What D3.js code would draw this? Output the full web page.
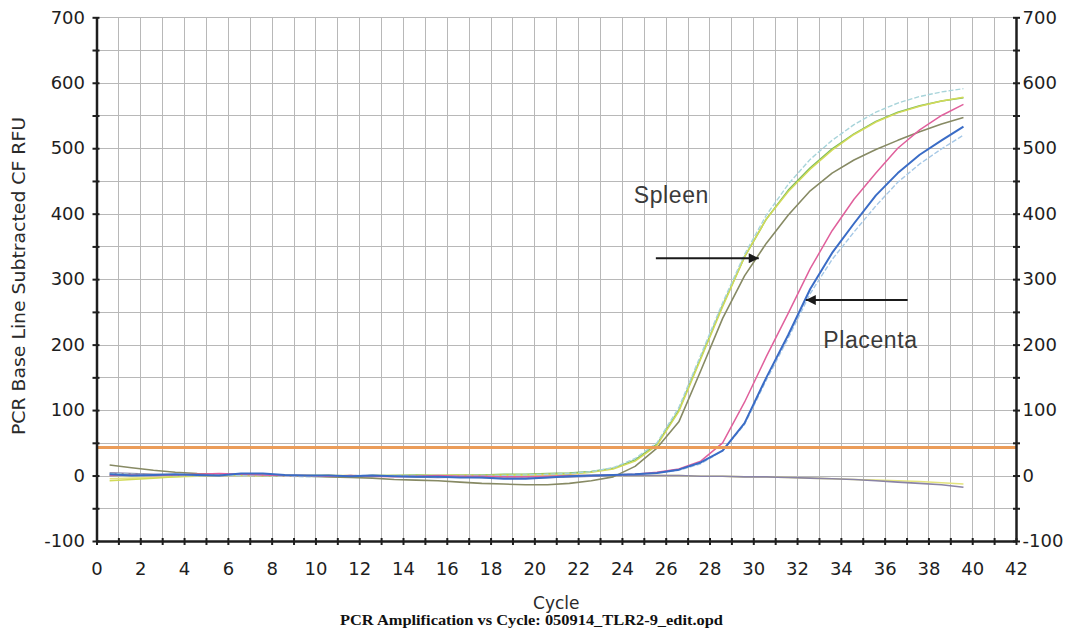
<!DOCTYPE html>
<html>
<head>
<meta charset="utf-8">
<script src="https://cdn.jsdelivr.net/npm/d3@7"></script>
<style>
  html, body { margin: 0; padding: 0; background: #ffffff; }
  svg { display: block; }
</style>
</head>
<body>
<svg id="chart" width="1068" height="628"></svg>
<script>
// Cycle positions of the plotted readings
const cycles = [0.6, 1.6, 2.6, 3.6, 4.6, 5.6, 6.6, 7.6, 8.6, 9.6,
  10.6, 11.6, 12.6, 13.6, 14.6, 15.6, 16.6, 17.6, 18.6, 19.6,
  20.6, 21.6, 22.6, 23.6, 24.6, 25.6, 26.6, 27.6, 28.6, 29.6,
  30.6, 31.6, 32.6, 33.6, 34.6, 35.6, 36.6, 37.6, 38.6, 39.6];

// Spleen wells
const spleenA = [3, 2, 1, 0, 0, 1, 0, 0, -1, -2, -1, 0, -1, 0, 0, -1, 0, 0, 0, 1,
  2, 3, 6, 12, 26, 50, 104, 184, 264, 338, 398, 445, 483, 512, 536, 555, 569, 579, 586, 591];
const spleenB = [0, 1, 1, 0, 1, 2, 1, 1, 0, 0, 0, -1, 0, 0, 1, 0, 1, 1, 2, 2,
  3, 4, 6, 11, 24, 48, 100, 180, 260, 334, 392, 436, 470, 499, 522, 541, 555, 565, 572, 577];
const spleenC = [-8, -6, -4, -2, 0, 0, 1, 0, 0, -1, 0, 0, -1, 0, 0, 0, 1, 0, 1, 1,
  2, 2, 5, 10, 22, 46, 98, 178, 258, 334, 392, 434, 468, 497, 521, 540, 554, 564, 572, 578];
const spleenD = [16, 12, 8, 5, 3, 2, 1, 0, 0, -1, -2, -3, -4, -6, -7, -8, -10, -12, -13, -14,
  -14, -12, -8, -2, 14, 42, 82, 160, 240, 305, 355, 398, 435, 462, 482, 498, 512, 525, 537, 547];

// Placenta wells
const placentaA = [0, 1, 0, 1, 2, 3, 2, 1, 0, 0, -1, 0, -1, -2, -1, 0, -1, -1, -2, -2,
  -1, 0, 0, 1, 2, 5, 10, 22, 50, 112, 182, 248, 316, 374, 422, 462, 500, 528, 550, 567];
const placentaB = [2, 0, 1, 2, 1, 0, 3, 3, 1, 0, 0, -1, 0, -1, -2, -2, -3, -3, -5, -5,
  -3, -1, 0, 1, 2, 4, 9, 20, 38, 80, 150, 215, 285, 340, 385, 428, 462, 490, 512, 533];
const placentaC = [1, 0, 0, 1, 0, 1, 2, 1, 0, -1, -1, 0, 0, -1, -1, -2, -2, -3, -4, -4,
  -3, -1, 0, 1, 2, 4, 8, 18, 38, 78, 146, 210, 278, 330, 372, 412, 448, 476, 499, 520];

// No-template controls
const controlA = [-5, -4, -3, -2, -1, 0, 0, -1, 0, 0, 0, -1, 0, 0, 0, 0, -1, 0, 0, 0,
  0, 0, 0, 0, 0, 0, 0, -1, -1, -2, -2, -3, -4, -5, -6, -7, -8, -9, -11, -13];
const controlB = [4, 3, 2, 1, 0, 0, 1, 0, 0, -1, 0, -1, 0, -1, -2, -3, -2, -3, -4, -4,
  -3, -2, -1, 0, 0, 0, 0, -1, -1, -2, -2, -3, -4, -5, -6, -8, -10, -12, -14, -18];

const threshold = 43;

const xTicks = [0, 2, 4, 6, 8, 10, 12, 14, 16, 18, 20, 22, 24, 26, 28, 30, 32, 34, 36, 38, 40, 42];
const yTicks = [-100, 0, 100, 200, 300, 400, 500, 600, 700];

const series = [
  { name: "controlA", values: controlA, color: "#e4e47e", width: 1.6, dash: null },
  { name: "controlB", values: controlB, color: "#8a84a6", width: 1.6, dash: null },
  { name: "spleenD", values: spleenD, color: "#878a64", width: 1.6, dash: null },
  { name: "spleenB", values: spleenB, color: "#7cbc5c", width: 1.5, dash: null },
  { name: "spleenC", values: spleenC, color: "#d2da58", width: 1.5, dash: null },
  { name: "spleenA", values: spleenA, color: "#a8d4da", width: 1.4, dash: "5,2" },
  { name: "placentaC", values: placentaC, color: "#a6c8e6", width: 1.4, dash: "5,2" },
  { name: "placentaA", values: placentaA, color: "#e0609c", width: 1.5, dash: null },
  { name: "placentaB", values: placentaB, color: "#3a6cc6", width: 2, dash: null }
];

const svg = d3.select("#chart");
const plotLeft = 96.5, plotRight = 1016, plotTop = 17.3, plotBottom = 541;

const x = d3.scaleLinear().domain([0, 42]).range([plotLeft, plotRight]);
const y = d3.scaleLinear().domain([-100, 700]).range([plotBottom, plotTop]);

// Grid
const grid = svg.append("g").attr("stroke", "#b8b8b8").attr("stroke-width", 1);
grid.selectAll("line.v").data(d3.range(1, 42)).join("line")
  .attr("class", "v")
  .attr("x1", d => Math.round(x(d)) + 0.5).attr("x2", d => Math.round(x(d)) + 0.5)
  .attr("y1", plotTop).attr("y2", plotBottom);
grid.selectAll("line.h").data(d3.range(-50, 701, 50)).join("line")
  .attr("class", "h")
  .attr("x1", plotLeft).attr("x2", plotRight)
  .attr("y1", d => Math.round(y(d)) + 0.5).attr("y2", d => Math.round(y(d)) + 0.5);

// Amplification curves
const line = d3.line().x((d, i) => x(cycles[i])).y(d => y(d));
svg.append("g").attr("fill", "none").selectAll("path").data(series).join("path")
  .attr("d", d => line(d.values))
  .attr("stroke", d => d.color)
  .attr("stroke-width", d => d.width)
  .attr("stroke-dasharray", d => d.dash)
  .attr("stroke-linejoin", "round");

// Threshold
svg.append("line")
  .attr("x1", plotLeft).attr("x2", plotRight)
  .attr("y1", y(threshold)).attr("y2", y(threshold))
  .attr("stroke", "#eb9c58").attr("stroke-width", 3);

// Axes
const tickFont = "DejaVu Sans, Verdana, sans-serif";
function styleAxis(g, crossIn) {
  g.select(".domain").attr("stroke", "#1e1e1e").attr("stroke-width", 2.5);
  g.selectAll(".tick line").attr("stroke", "#1e1e1e").attr("stroke-width", 2);
  g.selectAll(".tick text").attr("fill", "#1e1e1e")
    .attr("font-family", tickFont).attr("font-size", 18);
  crossIn(g.selectAll(".tick line"));
}

const yMinor = d3.range(-100, 701, 50);
svg.append("g").attr("transform", `translate(${plotLeft},0)`)
  .call(d3.axisLeft(y).tickValues(yMinor).tickSize(4).tickSizeOuter(0).tickPadding(7.5)
    .tickFormat(d => yTicks.includes(d) ? d : ""))
  .call(g => styleAxis(g, l => l.attr("x1", 3)));

svg.append("g").attr("transform", `translate(${plotRight},0)`)
  .call(d3.axisRight(y).tickValues(yMinor).tickSize(4).tickSizeOuter(0).tickPadding(2.5)
    .tickFormat(d => yTicks.includes(d) ? d : ""))
  .call(g => styleAxis(g, l => l.attr("x1", -3)));

svg.append("g").attr("transform", `translate(0,${plotBottom})`)
  .call(d3.axisBottom(x).tickValues(d3.range(0, 43, 1)).tickSize(4).tickSizeOuter(0).tickPadding(17)
    .tickFormat(d => xTicks.includes(d) ? d : ""))
  .call(g => styleAxis(g, l => l.attr("y1", -3)));

// Axis titles
svg.append("text")
  .attr("transform", `translate(25,276) rotate(-90)`)
  .attr("text-anchor", "middle")
  .attr("font-family", tickFont).attr("font-size", 17)
  .attr("textLength", 318).attr("lengthAdjust", "spacingAndGlyphs")
  .attr("fill", "#2a2a2a")
  .text("PCR Base Line Subtracted CF RFU");

svg.append("text")
  .attr("x", (plotLeft + plotRight) / 2).attr("y", 609)
  .attr("text-anchor", "middle")
  .attr("font-family", tickFont).attr("font-size", 17)
  .attr("fill", "#2a2a2a")
  .text("Cycle");

svg.append("text")
  .attr("x", 531.5).attr("y", 625)
  .attr("text-anchor", "middle")
  .attr("font-family", "Liberation Serif, Times New Roman, serif")
  .attr("font-weight", "bold").attr("font-size", 14)
  .attr("textLength", 383).attr("lengthAdjust", "spacingAndGlyphs")
  .attr("fill", "#111")
  .text("PCR Amplification vs Cycle: 050914_TLR2-9_edit.opd");

// Annotations
const defs = svg.append("defs");
defs.append("marker")
  .attr("id", "head").attr("viewBox", "0 0 10 10")
  .attr("refX", 10).attr("refY", 5)
  .attr("markerWidth", 6).attr("markerHeight", 5)
  .attr("markerUnits", "strokeWidth")
  .attr("orient", "auto")
  .append("path").attr("d", "M0,0 L10,5 L0,10 z").attr("fill", "#1a1a1a");

const notes = svg.append("g");
notes.append("line")
  .attr("x1", x(25.55)).attr("x2", x(30.25))
  .attr("y1", y(332)).attr("y2", y(332))
  .attr("stroke", "#1a1a1a").attr("stroke-width", 2).attr("marker-end", "url(#head)");
notes.append("line")
  .attr("x1", x(37.05)).attr("x2", x(32.4))
  .attr("y1", y(268)).attr("y2", y(268))
  .attr("stroke", "#1a1a1a").attr("stroke-width", 2).attr("marker-end", "url(#head)");

notes.append("text")
  .attr("x", x(24.54)).attr("y", y(416))
  .attr("font-family", "Liberation Sans, Arial, sans-serif").attr("font-size", 23)
  .attr("letter-spacing", 0.6)
  .attr("fill", "#3a3a3a")
  .text("Spleen");
notes.append("text")
  .attr("x", x(33.2)).attr("y", y(195))
  .attr("font-family", "Liberation Sans, Arial, sans-serif").attr("font-size", 23)
  .attr("letter-spacing", 0.6)
  .attr("fill", "#3a3a3a")
  .text("Placenta");
</script>
</body>
</html>
